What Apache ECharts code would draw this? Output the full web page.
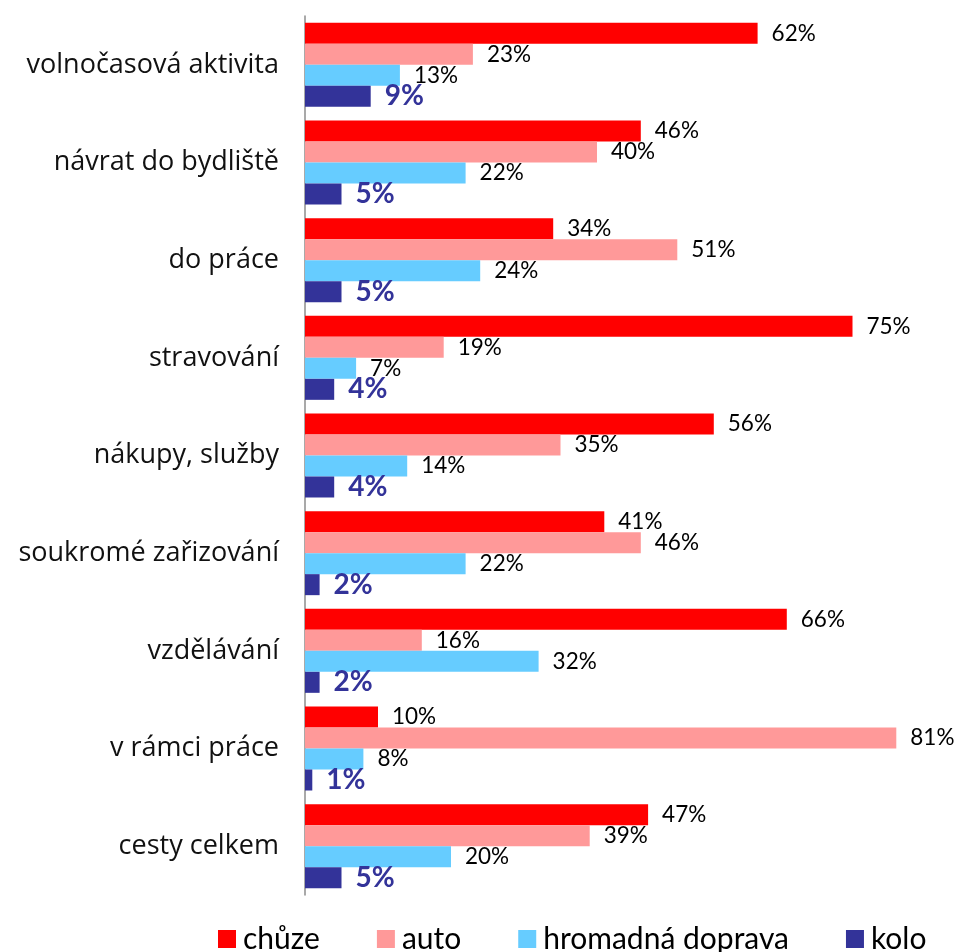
<!DOCTYPE html>
<html><head><meta charset="utf-8">
<script src="https://cdn.jsdelivr.net/npm/echarts@6/dist/echarts.min.js"></script>
<style>html,body{margin:0;padding:0;background:#fff}#c{width:963px;height:952px}</style>
</head><body><div id="c"></div>
<script>
const categories = ['volnočasová aktivita','návrat do bydliště','do práce','stravování','nákupy, služby','soukromé zařizování','vzdělávání','v rámci práce','cesty celkem'];
const seriesNames = ['chůze','auto','hromadná doprava','kolo'];
const chuze = [62,46,34,75,56,41,66,10,47];
const auto = [23,40,51,19,35,46,16,81,39];
const hromadna = [13,22,24,7,14,22,32,8,20];
const kolo = [9,5,5,4,4,2,2,1,5];
const colors = ['#ff0000','#ff9999','#66ccff','#333399'];
const FONT = 'Lato, sans-serif';
const CATFONT = '"Open Sans", sans-serif';

const datasets = [chuze, auto, hromadna, kolo];
const chart = echarts.init(document.getElementById('c'));
chart.setOption({
  animation:false,
  textStyle:{fontFamily:FONT},
  grid:{left:305, right:1, top:16, bottom:57, containLabel:false},
  legend:{
    left:218, top:924, itemWidth:18, itemHeight:18, itemGap:57, icon:'rect', padding:0,
    textStyle:{fontFamily:FONT, fontSize:30, lineHeight:30, color:'#000', padding:[0,0,0,2]},
    data:seriesNames
  },
  xAxis:{type:'value', min:0, max:90, show:false, splitLine:{show:false}},
  yAxis:{type:'category', data:categories, inverse:true,
    axisLine:{lineStyle:{color:'#8c8c8c', width:1.5}},
    axisTick:{length:8, lineStyle:{color:'#8c8c8c', width:1.5}},
    axisLabel:{fontFamily:CATFONT, fontSize:27, color:'#111', margin:26}
  },
  series: datasets.map((d,i)=>({
    name:seriesNames[i], type:'bar', data:d, barGap:'0%', barCategoryGap:'14%',
    itemStyle:{color:colors[i]},
    label:{show:true, position:'right', distance:14, formatter:'{c}%',
      fontFamily:FONT,
      fontSize: i===3?28:22.5, fontWeight: i===3?'bold':'normal',
      color: i===3?'#333399':'#000'}
  }))
});
</script></body></html>
